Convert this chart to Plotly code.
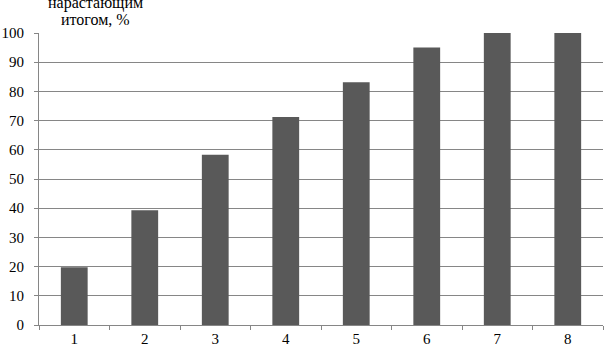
import plotly.graph_objects as go

categories = ["1", "2", "3", "4", "5", "6", "7", "8"]
values = [19.8, 39.3, 58.3, 71.2, 83.1, 95.0, 100.0, 100.0]
y_ticks = [0, 10, 20, 30, 40, 50, 60, 70, 80, 90, 100]
title_lines = ["нарастающим", "итогом, %"]

fig = go.Figure(go.Bar(x=categories, y=values, marker=dict(color="#595959", line=dict(width=0))))

font = dict(family="Liberation Serif, serif", size=15, color="black")
title_font = dict(family="Liberation Serif, serif", size=16, color="black")

plot_top, plot_h = 33, 294
line_centers_px = [3, 19]

fig.update_layout(
    width=604, height=348,
    margin=dict(l=34, r=1, t=plot_top, b=21),
    paper_bgcolor="white", plot_bgcolor="white",
    bargap=0.62,
    font=font,
    showlegend=False,
    xaxis=dict(type="category", tickson="boundaries", ticks="outside", ticklen=4,
               tickcolor="#868686", showline=True, linecolor="#868686", linewidth=1,
               showgrid=False, tickfont=font, ticklabelstandoff=0),
    yaxis=dict(range=[0, 100], tickvals=y_ticks, ticks="outside", ticklen=4,
               tickcolor="#868686", showline=True, linecolor="#868686", linewidth=1,
               showgrid=True, gridcolor="#868686", gridwidth=1, zeroline=False,
               tickfont=font, ticklabelstandoff=7),
    annotations=[dict(text=t, xref="paper", yref="paper",
                      x=0.101, y=1 + (plot_top - c) / plot_h,
                      xanchor="center", yanchor="middle", showarrow=False,
                      font=title_font, align="center")
                 for t, c in zip(title_lines, line_centers_px)],
)

fig.write_html("out.html", config={"displayModeBar": False},
               post_script="document.body.style.margin='0';document.body.style.overflow='hidden';")
